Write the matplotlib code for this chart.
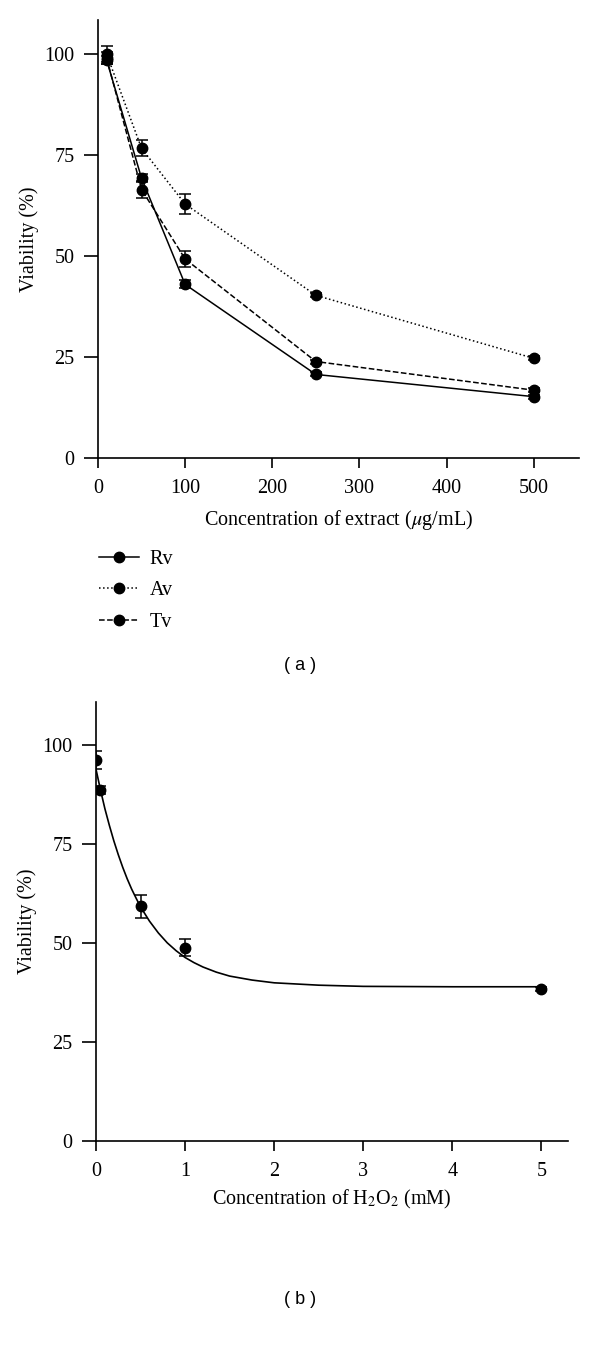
import matplotlib
matplotlib.use('Agg')
import matplotlib.pyplot as plt
from matplotlib.lines import Line2D

plt.rcParams['font.family'] = ['Liberation Serif', 'DejaVu Serif']
plt.rcParams['mathtext.fontset'] = 'stix'

# panel (a): viability vs extract concentration
conc_a = [10, 50, 100, 250, 500]
rv = [98.5, 69.3, 43.0, 20.7, 15.2]
rv_err = [1.0, 1.0, 1.0, 0.5, 0.5]
av = [100.0, 76.7, 62.9, 40.3, 24.7]
av_err = [2.0, 2.0, 2.5, 0.5, 0.5]
tv = [99.0, 66.5, 49.3, 23.9, 16.8]
tv_err = [1.5, 2.0, 2.0, 0.5, 0.5]
series_names = ['Rv', 'Av', 'Tv']

# panel (b): viability vs H2O2 concentration
conc_b = [0, 0.05, 0.5, 1, 5]
via_b = [96.3, 88.7, 59.3, 48.9, 38.5]
via_b_err = [2.3, 1.0, 2.8, 2.2, 0.5]
# fitted curve, points
fit_x = [0, 0.05, 0.1, 0.15, 0.2, 0.25, 0.3, 0.35, 0.4, 0.45, 0.5, 0.6, 0.7, 0.8, 0.9,
         1.0, 1.1, 1.2, 1.35, 1.5, 1.75, 2.0, 2.5, 3.0, 4.0, 5.0]
fit_y = [94.0, 88.8, 84.0, 79.8, 75.9, 72.4, 69.2, 66.3, 63.7, 61.4, 59.2, 55.6, 52.6, 50.1, 48.1,
         46.4, 45.1, 44.0, 42.7, 41.7, 40.7, 40.0, 39.4, 39.1, 39.0, 39.0]

yticks = [0, 25, 50, 75, 100]

FS = 14.5


def style_axes(ax):
    ax.spines['top'].set_visible(False)
    ax.spines['right'].set_visible(False)
    ax.spines['left'].set_linewidth(1.2)
    ax.spines['bottom'].set_linewidth(1.2)
    ax.tick_params(axis='y', direction='out', length=10, width=1.2, labelsize=FS, pad=7)
    ax.tick_params(axis='x', direction='out', length=7, width=1.2, labelsize=FS, pad=8)
    ax.set_yticks(yticks)
    ax.set_ylabel('Viability (%)', fontsize=FS, labelpad=4)


fig = plt.figure(figsize=(6, 13.66), dpi=100)

ax1 = fig.add_axes([0.1633, 0.6647, 0.8017, 0.3207])
styles = [('-', rv, rv_err), (':', av, av_err), ('--', tv, tv_err)]
handles = []
for (ls, vals, errs), name in zip(styles, series_names):
    ax1.errorbar(conc_a, vals, yerr=errs, color='black', linestyle=ls, linewidth=1.1,
                 marker='o', markersize=7.5, capsize=4, elinewidth=1.1, capthick=1.1)
    handles.append(Line2D([], [], color='black', linestyle=ls, linewidth=1.1,
                          marker='o', markersize=7.5))
ax1.set_xlim(0, 552)
ax1.set_ylim(0, 108.5)
ax1.set_xticks([0, 100, 200, 300, 400, 500])
style_axes(ax1)
ax1.set_xlabel('Concentration of extract ($\\mu$g/mL)', fontsize=FS, labelpad=7)

fig.legend(handles=handles, labels=series_names, loc='upper left',
           bbox_to_anchor=(0.135, 1 - 532 / 1366), frameon=False, fontsize=FS,
           handlelength=2.0, labelspacing=0.6, handletextpad=0.5)

fig.text(0.5, 1 - 665 / 1366, '( a )', ha='center', va='center',
         fontsize=13, family='Liberation Sans')

ax2 = fig.add_axes([0.16, 0.1647, 0.787, 0.3214])
ax2.plot(fit_x, fit_y, color='black', linewidth=1.2)
ax2.errorbar(conc_b, via_b, yerr=via_b_err, color='black', linestyle='none',
             marker='o', markersize=7.5, capsize=4, elinewidth=1.1, capthick=1.1)
ax2.set_xlim(0, 5.3)
ax2.set_ylim(0, 111)
ax2.set_xticks([0, 1, 2, 3, 4, 5])
style_axes(ax2)
ax2.set_xlabel('Concentration of H$_2$O$_2$ (mM)', fontsize=FS, labelpad=5)

fig.text(0.5, 1 - 1300 / 1366, '( b )', ha='center', va='center',
         fontsize=13, family='Liberation Sans')

fig.savefig('out.png', dpi=100)
